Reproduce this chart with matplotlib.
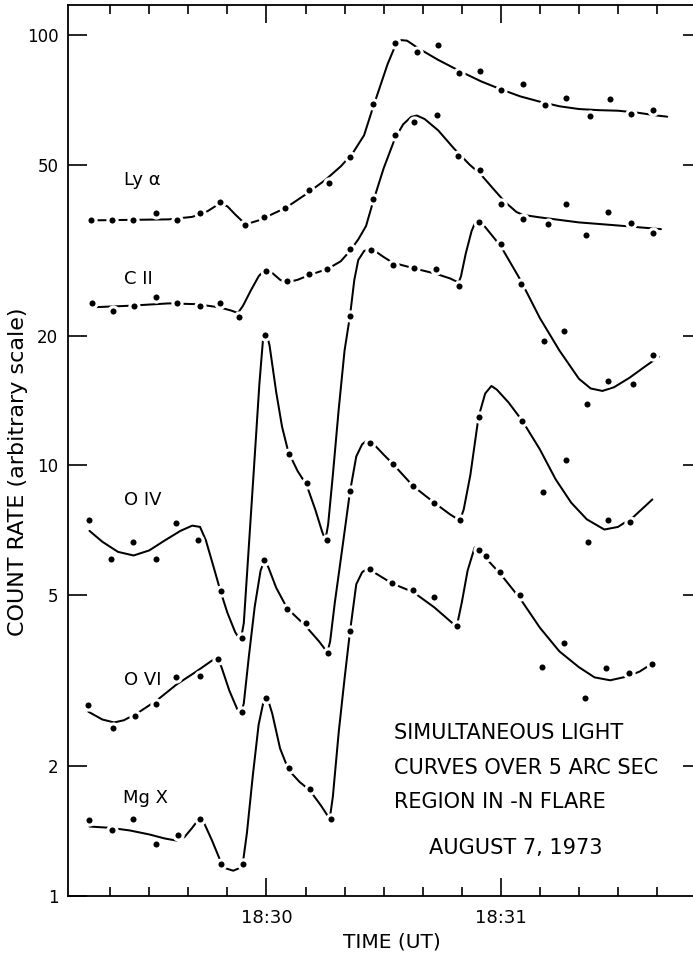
import matplotlib
matplotlib.use('Agg')
import matplotlib.pyplot as plt
from matplotlib.ticker import NullLocator

plt.rcParams['font.family'] = ['DejaVu Sans']

# time axis: seconds after 18:30:00 UT
# ---- measured points (dots) ----
lya_t = [-44.9, -39.5, -34.1, -28.2, -23.0, -17.1, -11.8, -5.6, -0.7, 4.7, 10.8, 16.1, 21.5, 27.3,
         32.9, 38.6, 43.8, 49.2, 54.6, 60.1, 65.7, 71.4, 76.6, 82.9, 87.9, 93.4, 99.0]
lya_v = [37.1, 37.1, 37.2, 38.5, 37.1, 38.6, 41.0, 36.1, 37.7, 39.7, 43.7, 45.4, 52.1, 69.3,
         95.6, 91.1, 94.8, 81.4, 82.5, 74.7, 76.8, 68.7, 71.5, 64.7, 71.0, 65.7, 66.9]

c2_t = [-44.6, -39.2, -33.8, -28.2, -22.8, -16.9, -11.8, -7.0, -0.2, 5.2, 11.0, 15.6, 21.5, 27.3,
        32.9, 37.9, 43.6, 49.0, 54.6, 60.1, 65.7, 72.0, 76.6, 81.8, 87.4, 93.4, 99.0]
c2_v = [23.8, 22.9, 23.5, 24.6, 23.8, 23.5, 23.9, 22.1, 28.3, 26.8, 27.9, 28.6, 31.8, 41.7,
        58.5, 62.8, 65.2, 52.4, 48.7, 40.4, 37.4, 36.3, 40.4, 34.4, 38.7, 36.6, 34.7]

o4_t = [-45.3, -39.7, -34.2, -28.2, -23.2, -17.4, -11.7, -6.2, -0.4, 5.7, 10.5, 15.4, 21.4, 26.8,
        32.3, 37.8, 43.3, 49.4, 54.4, 60.0, 65.1, 71.1, 76.2, 82.0, 87.4, 93.8, 99.0]
o4_v = [7.49, 6.07, 6.65, 6.05, 7.37, 6.72, 5.11, 3.98, 20.1, 10.66, 9.12, 6.72, 22.3, 31.7,
        29.3, 28.7, 28.6, 26.1, 36.8, 32.7, 26.4, 19.5, 20.5, 13.9, 15.7, 15.5, 18.1]

o6_t = [-45.6, -39.3, -33.6, -28.4, -23.1, -17.1, -12.3, -6.3, -0.5, 5.3, 10.0, 15.7, 21.4, 26.4,
        32.3, 37.6, 43.0, 49.6, 54.3, 65.5, 70.7, 76.6, 82.2, 87.5, 93.0]
o6_v = [2.78, 2.45, 2.62, 2.79, 3.22, 3.25, 3.55, 2.68, 6.02, 4.65, 4.30, 3.67, 8.71, 11.3,
        10.1, 8.95, 8.19, 7.46, 12.97, 12.7, 8.67, 10.3, 6.64, 7.47, 7.41]

mg_t = [-45.3, -39.6, -34.1, -28.4, -22.6, -16.9, -11.7, -6.0, -0.1, 5.7, 11.1, 16.4, 21.4, 26.4,
        32.2, 37.6, 43.0, 48.8, 54.3, 56.1, 59.9, 65.0, 70.6, 76.2, 81.5, 86.9, 92.7, 98.6]
mg_v = [1.503, 1.424, 1.508, 1.324, 1.384, 1.508, 1.189, 1.189, 2.88, 1.979, 1.777, 1.51, 4.12, 5.74,
        5.34, 5.14, 4.96, 4.23, 6.38, 6.16, 5.65, 4.99, 3.41, 3.86, 2.89, 3.38, 3.29, 3.45]

# ---- hand-drawn curves ----
lya_ct = [-45, -35, -25, -19, -15, -12, -10, -8, -6, -4.5, -2, 0, 5, 10, 15, 19, 22, 25, 27.3, 29,
          31, 33, 34.5, 36, 39, 44, 50, 55, 60, 65, 70, 75, 80, 85, 90, 95, 100, 102.6]
lya_cv = [37.1, 37.2, 37.3, 37.8, 39.0, 40.6, 40.0, 38.3, 36.8, 36.5, 37.1, 37.8, 39.7, 42.6, 46.0,
          49.5, 53.0, 58.5, 68.0, 75.5, 85.5, 94.5, 97.3, 97.0, 93.0, 87.5, 82.0, 78.0, 74.8, 72.0,
          70.0, 68.3, 67.3, 66.9, 66.7, 66.0, 65.0, 64.6]

c2_ct = [-45, -35, -25, -18, -12, -9, -7.3, -6, -4, -2, -0.3, 1.5, 3.5, 5, 8, 11, 15.6, 19, 21.5,
         23.5, 25.5, 27.3, 30, 32.9, 35, 37, 38.5, 40.5, 44, 48, 52, 55, 58, 61, 64, 65.7, 70, 80,
         90, 101]
c2_cv = [23.3, 23.5, 23.8, 23.7, 23.3, 22.9, 22.6, 23.5, 25.5, 27.5, 28.6, 28.0, 27.0, 26.6, 27.0,
         27.7, 28.6, 29.8, 31.6, 33.5, 36.0, 41.0, 49.0, 57.5, 62.0, 64.5, 65.0, 63.8, 60.0, 54.5,
         50.0, 47.3, 44.0, 41.0, 38.8, 38.2, 37.7, 36.7, 36.1, 35.4]

o4_ct = [-45.3, -42, -38, -34, -30, -26, -22, -19, -17, -15.5, -13.5, -11.8, -10, -8, -6.6, -5.8,
         -4.5, -3, -1.8, -0.8, 0, 0.8, 2.5, 4, 5.6, 8, 10.3, 12.5, 14.3, 15.1, 15.8, 17, 18.5, 20,
         21.4, 22.5, 23.5, 25, 26.5, 28, 30, 32.3, 37.8, 43.3, 47, 49.2, 49.8, 51, 52.5, 53.6, 54.5,
         56, 60, 65, 70, 75, 80, 83, 86, 89, 93, 97, 100.5]
o4_cv = [7.05, 6.65, 6.3, 6.18, 6.35, 6.7, 7.05, 7.25, 7.2, 6.7, 5.8, 5.12, 4.55, 4.1, 3.92, 4.3,
         6.5, 10.5, 15.5, 20.0, 20.3, 19.0, 14.8, 12.3, 10.75, 9.7, 9.0, 7.9, 7.0, 6.72, 7.3, 9.5,
         13.5, 18.5, 22.3, 27.0, 30.0, 31.5, 31.9, 31.4, 30.5, 29.6, 28.7, 27.9, 27.2, 26.6, 27.5,
         31.0, 35.0, 37.0, 37.0, 35.8, 32.3, 27.0, 22.0, 18.5, 15.9, 15.1, 14.9, 15.2, 16.0, 17.0,
         17.9]

o6_ct = [-45.6, -42, -39, -36.5, -33, -28, -23, -18, -14, -12.6, -11.5, -9.5, -7.5, -6.5, -5.8,
         -4.5, -3, -1.5, -0.5, 0.5, 2.5, 5.3, 9.9, 13.5, 15.6, 16.3, 17.5, 19.5, 21.4, 23, 24.5,
         25.8, 27.5, 30, 32.3, 37.6, 43, 47, 49.5, 50.5, 52.2, 54.3, 56, 57.6, 59, 62, 65.5, 70, 74,
         78, 82, 86.5, 90, 94, 98.8]
o6_cv = [2.68, 2.57, 2.53, 2.56, 2.66, 2.85, 3.1, 3.32, 3.52, 3.57, 3.4, 3.0, 2.72, 2.66, 2.8, 3.6,
         4.7, 5.7, 6.03, 5.8, 5.2, 4.66, 4.25, 3.9, 3.68, 3.9, 4.8, 6.5, 8.71, 10.5, 11.2, 11.45,
         11.2, 10.6, 10.1, 8.95, 8.19, 7.7, 7.45, 7.9, 9.5, 12.97, 14.7, 15.3, 15.0, 14.0, 12.7,
         10.9, 9.3, 8.2, 7.5, 7.1, 7.2, 7.6, 8.34]

mg_ct = [-45.3, -40, -35, -30, -26, -23, -21, -19, -17.3, -16, -14, -12, -10.5, -8.5, -7, -6, -5,
         -3.5, -2, -0.6, 0.3, 1.5, 3.5, 5.7, 8.5, 11.1, 14, 16.2, 17, 18.5, 20, 21.4, 23, 24.5, 25.8,
         27.5, 32.2, 37.6, 43, 48.7, 50, 51.5, 53.3, 55, 56.1, 59.9, 65, 70, 75, 80, 84, 88, 92,
         95.5, 98.6]
mg_cv = [1.45, 1.44, 1.42, 1.39, 1.36, 1.345, 1.37, 1.44, 1.51, 1.48, 1.35, 1.22, 1.16, 1.145, 1.16,
         1.2, 1.4, 1.9, 2.5, 2.87, 2.88, 2.65, 2.2, 1.96, 1.84, 1.76, 1.62, 1.51, 1.7, 2.4, 3.2,
         4.12, 5.3, 5.65, 5.76, 5.65, 5.32, 5.08, 4.68, 4.22, 4.8, 5.7, 6.45, 6.3, 6.1, 5.6, 4.9,
         4.2, 3.7, 3.4, 3.22, 3.17, 3.23, 3.32, 3.46]

# series labels: (text, left time, value)
line_labels = [('Ly α', -36.4, 46.0), ('C II', -36.4, 27.1), ('O IV', -36.4, 8.3),
               ('O VI', -36.4, 3.18), ('Mg X', -36.6, 1.69)]

y_ticks = [1, 2, 5, 10, 20, 50, 100]
y_labels = ['1', '2', '5', '10', '20', '50', '100']
x_major = [0, 60]
x_major_labels = ['18:30', '18:31']
x_minor = [-40, -30, -20, -10, 10, 20, 30, 40, 50, 70, 80, 90, 100]

note_lines = ['SIMULTANEOUS LIGHT', 'CURVES OVER 5 ARC SEC', 'REGION IN -N FLARE']

fig = plt.figure(figsize=(6.93, 9.55), dpi=100)
ax = fig.add_axes([68 / 693, 1 - 896 / 955, 1 - 68 / 693, 891 / 955])

curves = [(lya_ct, lya_cv), (c2_ct, c2_cv), (o4_ct, o4_cv), (o6_ct, o6_cv), (mg_ct, mg_cv)]
points = [(lya_t, lya_v), (c2_t, c2_v), (o4_t, o4_v), (o6_t, o6_v), (mg_t, mg_v)]

# curves first, then the dots with a white ring so the line breaks at each dot
for ct, cv in curves:
    ax.plot(ct, cv, color='black', lw=1.45, solid_capstyle='round', solid_joinstyle='round',
            zorder=2)
for t, v in points:
    ax.plot(t, v, 'o', ms=6.6, mfc='black', mec='white', mew=2.2, zorder=3)

for text, t, v in line_labels:
    ax.text(t, v, text, fontsize=13, ha='left', va='center')

ax.set_yscale('log')
ax.set_ylim(1, 117.4)
ax.set_xlim(-50.8, 109.2)

ax.set_yticks(y_ticks, y_labels)
ax.yaxis.set_minor_locator(NullLocator())
ax.set_xticks(x_major, x_major_labels)
ax.set_xticks(x_minor, minor=True)

ax.tick_params(axis='x', which='major', direction='in', length=13, width=1.2,
               top=True, labelsize=13, pad=9)
ax.tick_params(axis='x', which='minor', direction='in', length=6.5, width=1.2, top=True)
ax.tick_params(axis='y', which='major', direction='in', length=14, width=1.2,
               labelsize=12, pad=7, right=False)

sec = ax.secondary_yaxis('right')
sec.set_yticks(y_ticks[1:])
sec.yaxis.set_minor_locator(NullLocator())
sec.tick_params(direction='in', length=7, width=1.2, labelright=False)
sec.spines['right'].set_visible(False)

for side in ['left', 'top', 'bottom']:
    ax.spines[side].set_linewidth(1.3)
ax.spines['right'].set_visible(False)

ax.set_ylabel('COUNT RATE (arbitrary scale)', fontsize=16)
ax.yaxis.set_label_coords(-0.064, 0.476)
ax.set_xlabel('TIME (UT)', fontsize=14.5)
ax.xaxis.set_label_coords(0.518, -0.041)

for i, line in enumerate(note_lines):
    fig.text(394 / 693, 1 - (733 + 34.5 * i) / 955, line, fontsize=15, ha='left', va='center')
fig.text(516 / 693, 1 - 848 / 955, 'AUGUST 7, 1973', fontsize=15, ha='center', va='center')

fig.savefig('out.png', dpi=100)
